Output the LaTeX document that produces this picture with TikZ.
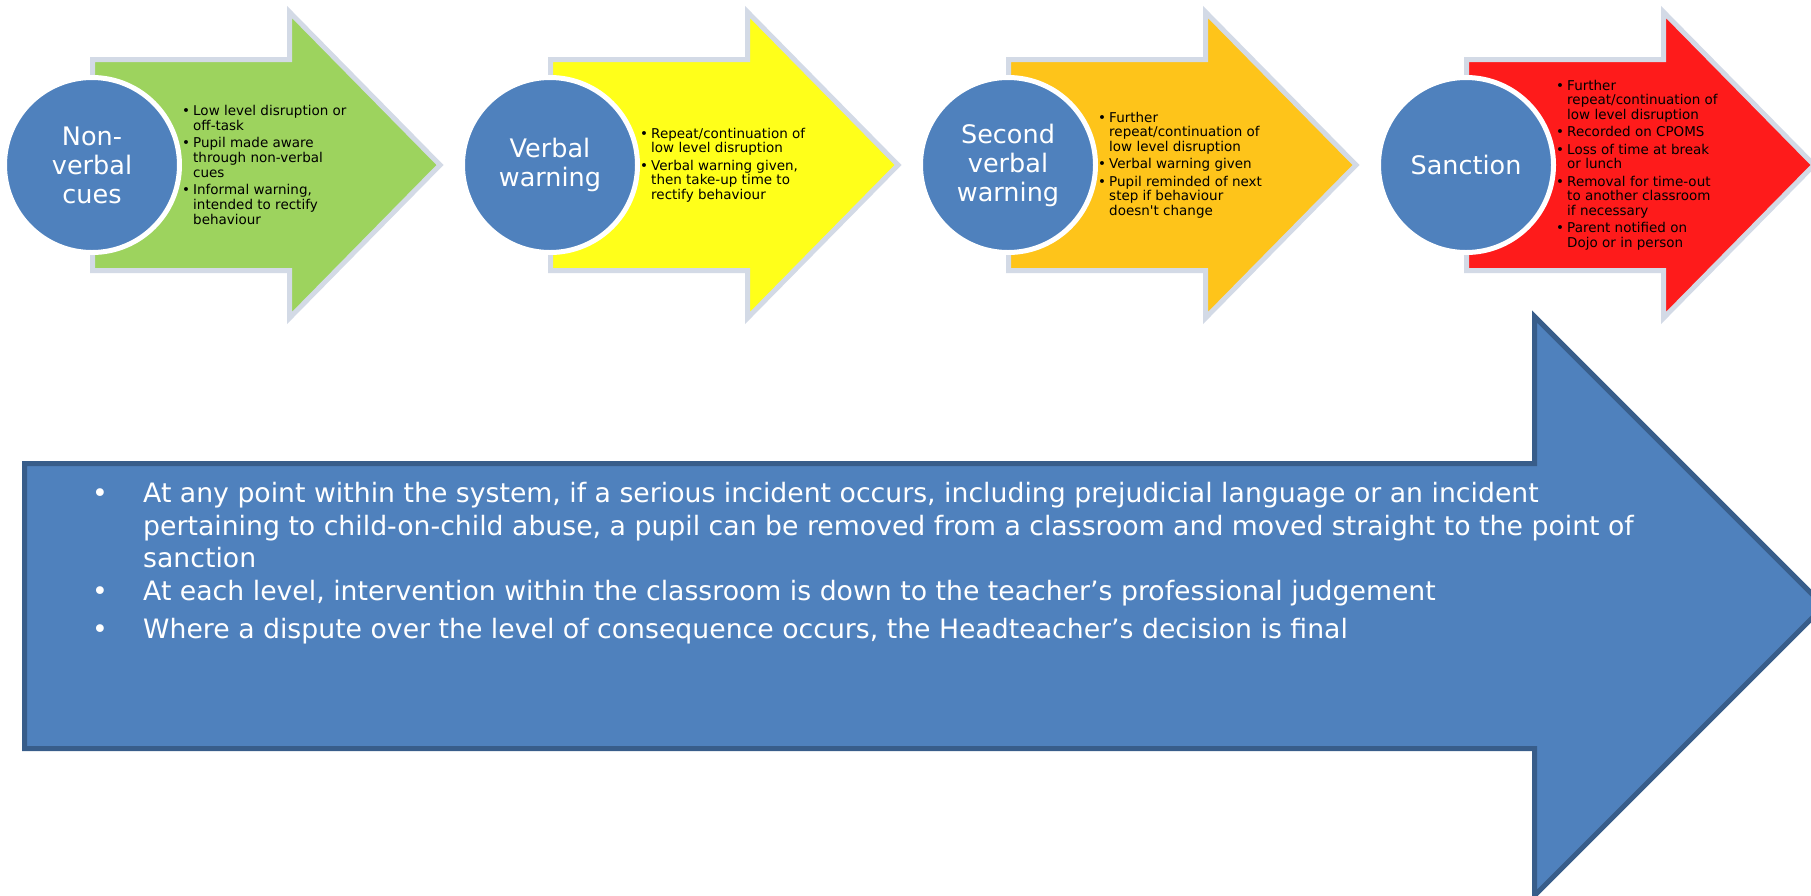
\documentclass[tikz,border=0pt]{standalone}
\usepackage{fontspec}
\setmainfont{DejaVu Sans}
\definecolor{agreen}{RGB}{157,211,94}
\definecolor{ayellow}{RGB}{255,255,26}
\definecolor{aorange}{RGB}{254,196,26}
\definecolor{ared}{RGB}{254,27,27}
\definecolor{circblue}{RGB}{79,129,189}
\definecolor{bigline}{RGB}{56,93,138}
\definecolor{topline}{RGB}{211,218,230}
\newcommand\stbul{\makebox[11pt][l]{\textbullet}}
\newcommand\stind{\hspace*{11pt}}
\newcommand\bgbul{\makebox[51pt][l]{\textbullet}}
\newcommand\bgind{\hspace*{51pt}}
\begin{document}
\begin{tikzpicture}[x=1pt,y=-1pt,
  toparrow/.style={draw=topline, line width=5pt, line join=miter},
  stagecircle/.style={circle, fill=circblue, draw=white, line width=5pt, minimum size=175pt, inner sep=0pt, text=white, align=center, font=\fontsize{25.5}{29}\selectfont},
  stagetext/.style={anchor=west, inner sep=0pt, align=left, text=black, font=\fontsize{13.5}{14.7}\selectfont},
  bigarrow/.style={draw=bigline, fill=circblue, line width=5pt, line join=miter},
  bigtext/.style={anchor=north west, inner sep=0pt, align=left, text=white, font=\fontsize{26.7}{32.5}\selectfont}]
\useasboundingbox (0,0) rectangle (1811,895);
\clip (0,0) rectangle (1811,895);
% top arrows
\foreach \x/\c in {92/agreen, 550/ayellow, 1008/aorange, 1466/ared}{
  \draw[toparrow, fill=\c] ({\x+0.5},59.5) -- ({\x+197.5},59.5) -- ({\x+197.5},12) -- ({\x+348},165) -- ({\x+197.5},318) -- ({\x+197.5},270.5) -- ({\x+0.5},270.5) -- cycle;
}
% circles
\node[stagecircle] (c1) at (92,165) {Non-\\verbal\\cues};
\node[stagecircle] (c2) at (550,165) {Verbal\\warning};
\node[stagecircle] (c3) at (1008,165) {Second\\verbal\\warning};
\node[stagecircle] (c4) at (1466,165) {Sanction};
% texts
\node[stagetext] (t1) at (182,165) {\stbul Low level disruption or\\
\stind off-task\\[2.6pt]
\stbul Pupil made aware\\
\stind through non-verbal\\
\stind cues\\[2.6pt]
\stbul Informal warning,\\
\stind intended to rectify\\
\stind behaviour};
\node[stagetext] (t2) at (640,165) {\stbul Repeat/continuation of\\
\stind low level disruption\\[2.6pt]
\stbul Verbal warning given,\\
\stind then take-up time to\\
\stind rectify behaviour};
\node[stagetext] (t3) at (1098,165) {\stbul Further\\
\stind repeat/continuation of\\
\stind low level disruption\\[2.6pt]
\stbul Verbal warning given\\[2.6pt]
\stbul Pupil reminded of next\\
\stind step if behaviour\\
\stind doesn\textquotesingle t change};
\node[stagetext] (t4) at (1556,165) {\stbul Further\\
\stind repeat/continuation of\\
\stind low level disruption\\[2.6pt]
\stbul Recorded on CPOMS\\[2.6pt]
\stbul Loss of time at break\\
\stind or lunch\\[2.6pt]
\stbul Removal for time-out\\
\stind to another classroom\\
\stind if necessary\\[2.6pt]
\stbul Parent notified on\\
\stind Dojo or in person};
% big arrow
\draw[bigarrow] (24.5,463.5) -- (1534.5,463.5) -- (1534.5,316.5) -- (1824,606) -- (1534.5,895.5) -- (1534.5,748.5) -- (24.5,748.5) -- cycle;
\node[bigtext] (bt) at (92,482.5) {\bgbul At any point within the system, if a serious incident occurs, including prejudicial language or an incident\\
\bgind pertaining to child-on-child abuse, a pupil can be removed from a classroom and moved straight to the point of\\
\bgind sanction\\
\bgbul At each level, intervention within the classroom is down to the teacher’s professional judgement\\[5.5pt]
\bgbul Where a dispute over the level of consequence occurs, the Headteacher’s decision is final};
\end{tikzpicture}
\end{document}
